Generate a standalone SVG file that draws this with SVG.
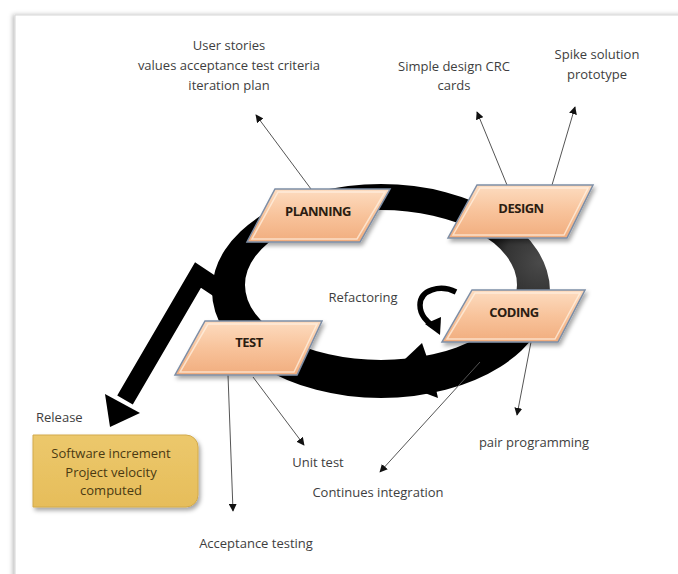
<svg xmlns="http://www.w3.org/2000/svg" width="678" height="574" viewBox="0 0 678 574">
<style>
.lbl{font-family:"Open Sans","Liberation Sans",sans-serif;font-size:13px;fill:#3e3e3e;text-anchor:middle}
.lft{text-anchor:start}
.node-text{font-family:"Open Sans","Liberation Sans",sans-serif;font-size:13px;font-weight:bold;fill:#2b1d12;text-anchor:middle;letter-spacing:-0.5px}
.box-text{font-family:"Open Sans","Liberation Sans",sans-serif;font-size:13px;fill:#4a3a12;text-anchor:middle}
.node{fill:url(#peach);stroke:#7d8ea6;stroke-width:1.5;filter:url(#sh)}
.bevel{fill:none;stroke:#fff3e6;stroke-opacity:0.7;stroke-width:1.5}
.thin{fill:none;stroke:#555;stroke-width:1;marker-end:url(#ah)}
</style>
<defs>
<linearGradient id="peach" x1="0" y1="0" x2="0" y2="1">
<stop offset="0" stop-color="#fddcc0"/>
<stop offset="0.5" stop-color="#f8c39b"/>
<stop offset="1" stop-color="#f1ad7e"/>
</linearGradient>
<linearGradient id="gold" x1="0" y1="0" x2="0" y2="1">
<stop offset="0" stop-color="#ecc86c"/>
<stop offset="1" stop-color="#e6bd5a"/>
</linearGradient>
<radialGradient id="ringg" cx="540" cy="262" r="60" gradientUnits="userSpaceOnUse">
<stop offset="0" stop-color="#4a4a4a"/>
<stop offset="0.6" stop-color="#333"/>
<stop offset="1" stop-color="#000"/>
</radialGradient>
<filter id="sh" x="-20%" y="-20%" width="150%" height="160%">
<feDropShadow dx="2" dy="3" stdDeviation="2" flood-color="#000" flood-opacity="0.35"/>
</filter>
<filter id="fsh" x="-5%" y="-5%" width="110%" height="110%">
<feDropShadow dx="-2" dy="0" stdDeviation="2" flood-color="#000" flood-opacity="0.25"/>
</filter>
<marker id="ah" viewBox="0 0 10 10" refX="9" refY="5" markerWidth="8" markerHeight="8" markerUnits="userSpaceOnUse" orient="auto">
<path d="M0,0 L10,5 L0,10 z" fill="#111"/>
</marker>
</defs>
<rect width="678" height="574" fill="#fff"/>
<rect x="15" y="15" width="700" height="600" fill="#fff" stroke="#d6d6d6" stroke-width="1" filter="url(#fsh)"/>

<g id="connectors">
<path id="cycle-ring" fill="url(#ringg)" fill-rule="evenodd" d="M212,291 A169,107 0 1 0 550,291 A169,107 0 1 0 212,291 Z M245,285 A136,75 0 1 0 517,285 A136,75 0 1 0 245,285 Z"/>
<polygon id="ring-head" fill="#000" points="385,378 422,343 432,372 438,398"/>
<polyline id="release-arrow" fill="none" stroke="#000" stroke-width="18" stroke-linejoin="miter" points="234,299 198,275 125,400"/>
<polygon fill="#000" points="110,427 140,413 105,394"/>
<line class="thin" x1="311" y1="189" x2="256" y2="115"/>
<line class="thin" x1="507" y1="185" x2="477" y2="112"/>
<line class="thin" x1="552" y1="185" x2="575" y2="107"/>
<line class="thin" x1="228" y1="375" x2="233" y2="511"/>
<line class="thin" x1="253" y1="377" x2="304" y2="445"/>
<line class="thin" x1="480" y1="362" x2="380" y2="472"/>
<line class="thin" x1="531" y1="342" x2="517" y2="415"/>
</g>

<g id="planning">
<polygon class="node" points="275,189 390,189 360,242 247,242"/>
<polygon class="bevel" points="278,192 385,192 357,239 252,239"/>
<text class="node-text" x="318" y="216">PLANNING</text>
</g>
<g id="design">
<polygon class="node" points="477,185 593,185 567,238 448,238"/>
<polygon class="bevel" points="480,188 588,188 564,235 453,235"/>
<text class="node-text" x="521" y="213">DESIGN</text>
</g>
<g id="coding">
<polygon class="node" points="472,290 585,290 558,342 442,342"/>
<polygon class="bevel" points="475,293 580,293 555,339 447,339"/>
<text class="node-text" x="514" y="317">CODING</text>
</g>
<g id="test">
<polygon class="node" points="205,321 322,321 297,375 175,375"/>
<polygon class="bevel" points="208,324 317,324 294,372 180,372"/>
<text class="node-text" x="249" y="347">TEST</text>
</g>

<g id="refactoring">
<path d="M456,292 C440,284 420,290 420,305 C420,316 428,322 433,326" fill="none" stroke="#000" stroke-width="5.5"/>
<polygon fill="#000" points="440,335 425,324 441,317"/>
<text class="lbl" x="363" y="302">Refactoring</text>
</g>

<g id="release-box">
<path d="M33,435 H186 A12,12 0 0 1 198,447 V495 A12,12 0 0 1 186,507 H33 Z" fill="url(#gold)" stroke="#d2aa4c" stroke-width="1" filter="url(#sh)"/>
<text class="box-text" x="111" y="458">Software increment</text>
<text class="box-text" x="111" y="477">Project velocity</text>
<text class="box-text" x="111" y="495">computed</text>
</g>

<g id="labels">
<text class="lbl" x="229" y="50">User stories</text>
<text class="lbl" x="229" y="70">values acceptance test criteria</text>
<text class="lbl" x="229" y="90">iteration plan</text>
<text class="lbl" x="454" y="71">Simple design CRC</text>
<text class="lbl" x="454" y="90">cards</text>
<text class="lbl" x="597" y="59">Spike solution</text>
<text class="lbl" x="597" y="79">prototype</text>
<text class="lbl lft" x="36" y="422">Release</text>
<text class="lbl" x="318" y="467">Unit test</text>
<text class="lbl" x="378" y="497">Continues integration</text>
<text class="lbl" x="534" y="447">pair programming</text>
<text class="lbl" x="256" y="548">Acceptance testing</text>
</g>
</svg>
